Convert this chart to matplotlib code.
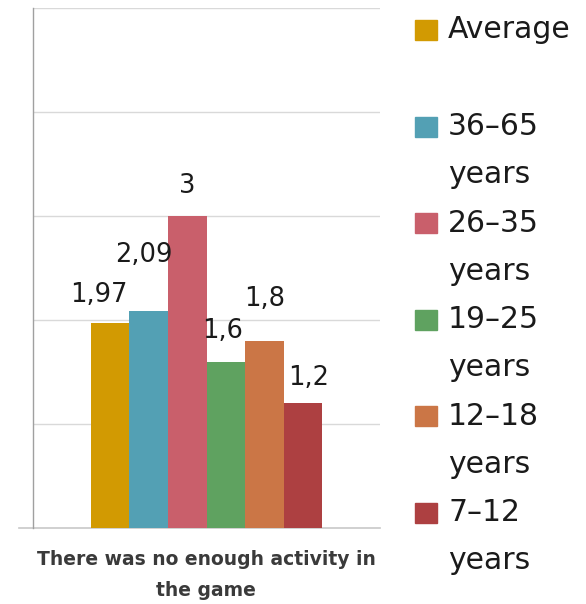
import matplotlib.pyplot as plt
from matplotlib.patches import Rectangle
from matplotlib.lines import Line2D

groups = ['Average', '36–65\nyears', '26–35\nyears', '19–25\nyears', '12–18\nyears', '7–12\nyears']
values = [1.97, 2.09, 3.0, 1.6, 1.8, 1.2]
value_labels = ['1,97', '2,09', '3', '1,6', '1,8', '1,2']
category = 'There was no enough activity in\nthe game'

colors = ['#D29A02', '#53A0B4', '#C95F6B', '#5FA260', '#CB7646', '#AD4041']
# label placement tweaks (x shift in bar units, y gap in points)
label_dx = [-0.3, -0.12, 0.0, -0.08, 0.0, 0.15]
label_dy = [11, 31, 12, 13, 21, 9]

fig = plt.figure(figsize=(5.86, 6.04), dpi=100)
ax = fig.add_axes([0.0563, 0.1258, 0.5922, 0.861])

x = list(range(len(values)))
ax.bar(x, values, width=1.0, color=colors, zorder=3)
ax.set_xlim(-2, 7)
ax.set_ylim(0, 5)

for i, v in enumerate(values):
    ax.annotate(value_labels[i], (x[i] + label_dx[i], v), xytext=(0, label_dy[i]),
                textcoords='offset points', ha='center', va='bottom',
                fontsize=18.5, color='#1a1a1a', zorder=4)

ax.set_yticks([1, 2, 3, 4, 5])
ax.grid(axis='y', color='#d9d9d9', linewidth=1, zorder=0)
ax.tick_params(left=False, bottom=False, labelleft=False, labelbottom=False)
for s in ['top', 'right', 'bottom']:
    ax.spines[s].set_visible(False)
ax.spines['left'].set_color('#a0a0a0')
ax.spines['left'].set_linewidth(1)
ax.add_line(Line2D([-0.04, 1.0], [0, 0], transform=ax.transAxes, color='#c8c8c8',
                   linewidth=1.2, clip_on=False, zorder=2))

fig.text(0.352, 0.048, category, ha='center', va='center', fontsize=13.5,
         fontweight='bold', color='#3a3a3a', linespacing=1.8)

# legend drawn by hand so each swatch sits on the first line of its label
top = 1 - 30 / 604
step = 96.5 / 604
for i, g in enumerate(groups):
    y = top - i * step
    fig.add_artist(Rectangle((415 / 586, y - 10 / 604), 22 / 586, 20 / 604,
                             transform=fig.transFigure, color=colors[i]))
    fig.text(448 / 586, y, g.split('\n')[0], ha='left', va='center',
             fontsize=21.5, color='#1a1a1a')
    if '\n' in g:
        fig.text(448 / 586, y - 48 / 604, g.split('\n')[1], ha='left', va='center',
                 fontsize=21.5, color='#1a1a1a')

fig.savefig('out.png', dpi=100)
